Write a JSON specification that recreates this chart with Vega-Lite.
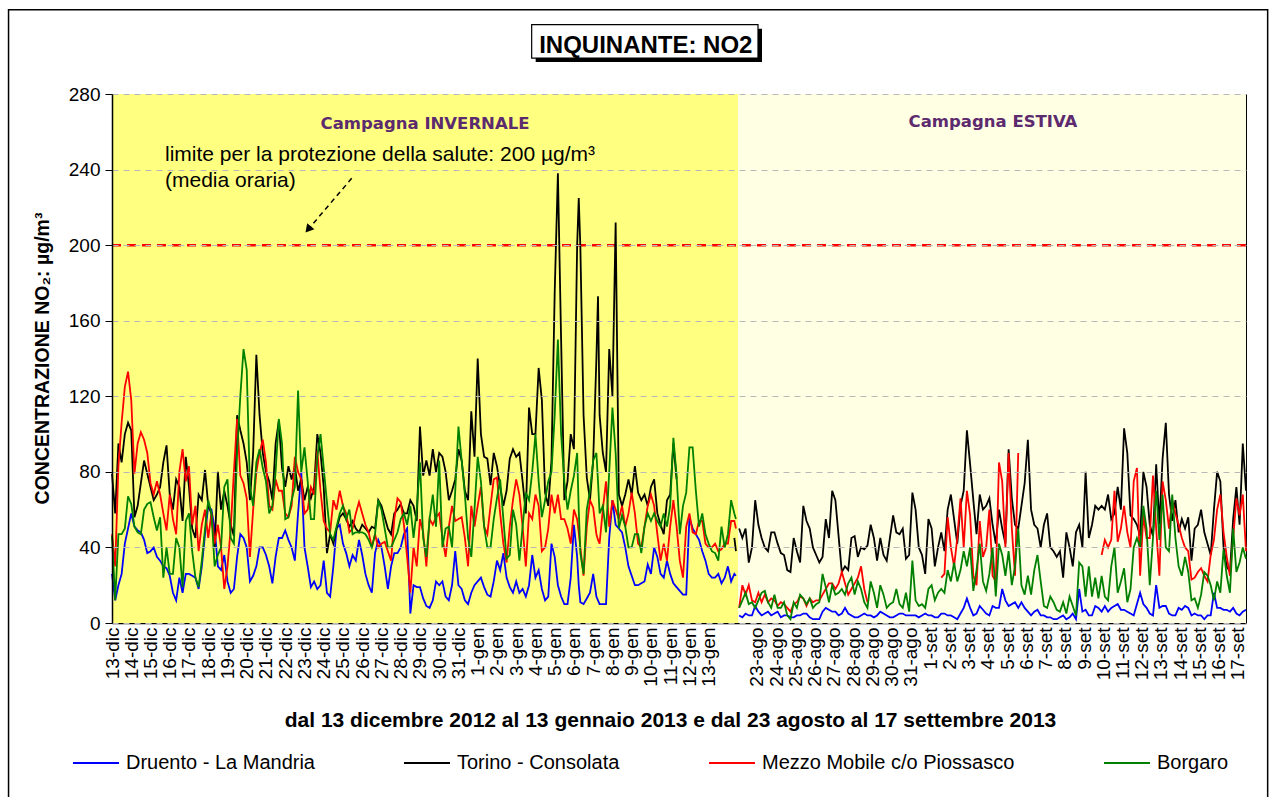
{
"$schema":"https://vega.github.io/schema/vega-lite/v6.json",
"width":1134,"height":529,
"autosize":{"type":"none"},
"padding":{"left":112,"top":94,"right":27,"bottom":174},
"background":"white",
"config":{"font":"Liberation Sans","view":{"stroke":"#000","strokeWidth":1}},
"datasets":{
"bg":[{"p":"INVERNALE","a":0,"b":780.6},{"p":"ESTIVA","a":780.6,"b":1414}],
"no2":[
{"h":0,"D":26,"T":79,"M":47,"B":46},{"h":4,"D":12,"T":58,"M":30,"B":12},{"h":8,"D":20,"T":95,"M":83,"B":47},{"h":12,"D":26,"T":85,"M":106,"B":47},{"h":16,"D":42,"T":100,"M":125,"B":50},{"h":20,"D":50,"T":106,"M":133,"B":67},{"h":24,"D":58,"T":102,"M":118,"B":63},{"h":28,"D":51,"T":56,"M":79,"B":51},{"h":32,"D":49,"T":62,"M":95,"B":48},{"h":36,"D":48,"T":74,"M":101,"B":47},{"h":40,"D":44,"T":86,"M":97,"B":60},{"h":44,"D":37,"T":79,"M":90,"B":63},{"h":48,"D":38,"T":72,"M":74,"B":64},{"h":52,"D":40,"T":65,"M":68,"B":56},{"h":56,"D":35,"T":68,"M":75,"B":49},{"h":60,"D":33,"T":72,"M":68,"B":56},{"h":64,"D":30,"T":85,"M":58,"B":24},{"h":68,"D":29,"T":94,"M":49,"B":40},{"h":72,"D":25,"T":68,"M":68,"B":26},{"h":76,"D":16,"T":60,"M":55,"B":26},{"h":80,"D":12,"T":76,"M":47,"B":45},{"h":84,"D":24,"T":72,"M":80,"B":40},{"h":88,"D":16,"T":54,"M":92,"B":19},{"h":92,"D":26,"T":88,"M":75,"B":54},{"h":96,"D":26,"T":72,"M":83,"B":58},{"h":100,"D":25,"T":50,"M":52,"B":38},{"h":104,"D":24,"T":45,"M":62,"B":24},{"h":108,"D":18,"T":68,"M":38,"B":19},{"h":112,"D":30,"T":65,"M":52,"B":33},{"h":116,"D":47,"T":81,"M":60,"B":50},{"h":120,"D":62,"T":62,"M":45,"B":65},{"h":124,"D":60,"T":58,"M":58,"B":58},{"h":128,"D":50,"T":40,"M":42,"B":30},{"h":132,"D":30,"T":80,"M":52,"B":36},{"h":136,"D":28,"T":60,"M":40,"B":40},{"h":140,"D":36,"T":70,"M":18,"B":72},{"h":144,"D":22,"T":62,"M":30,"B":76},{"h":148,"D":16,"T":52,"M":50,"B":45},{"h":152,"D":18,"T":46,"M":80,"B":42},{"h":156,"D":35,"T":110,"M":108,"B":90},{"h":160,"D":47,"T":102,"M":78,"B":120},{"h":164,"D":45,"T":95,"M":74,"B":145},{"h":168,"D":40,"T":85,"M":66,"B":134},{"h":172,"D":22,"T":65,"M":35,"B":72},{"h":176,"D":25,"T":90,"M":60,"B":62},{"h":180,"D":30,"T":142,"M":80,"B":85},{"h":184,"D":40,"T":110,"M":90,"B":92},{"h":188,"D":40,"T":90,"M":97,"B":82},{"h":192,"D":36,"T":80,"M":85,"B":75},
{"h":196,"D":30,"T":75,"M":62,"B":58},{"h":200,"D":21,"T":65,"M":60,"B":62},{"h":204,"D":35,"T":95,"M":76,"B":80},{"h":208,"D":45,"T":107,"M":70,"B":108},{"h":212,"D":45,"T":82,"M":70,"B":95},{"h":216,"D":49,"T":72,"M":58,"B":55},{"h":220,"D":44,"T":83,"M":56,"B":56},{"h":224,"D":40,"T":76,"M":62,"B":65},{"h":228,"D":33,"T":83,"M":88,"B":72},{"h":232,"D":58,"T":70,"M":80,"B":123},{"h":236,"D":80,"T":76,"M":76,"B":80},{"h":240,"D":40,"T":65,"M":58,"B":93},{"h":244,"D":30,"T":72,"M":60,"B":75},{"h":248,"D":19,"T":66,"M":72,"B":55},{"h":252,"D":22,"T":72,"M":68,"B":55},{"h":256,"D":18,"T":100,"M":91,"B":88},{"h":260,"D":20,"T":90,"M":70,"B":100},{"h":264,"D":33,"T":72,"M":54,"B":82},{"h":268,"D":16,"T":37,"M":50,"B":64},{"h":272,"D":14,"T":47,"M":48,"B":47},{"h":276,"D":30,"T":42,"M":65,"B":44},{"h":280,"D":50,"T":50,"M":60,"B":51},{"h":284,"D":52,"T":56,"M":70,"B":58},{"h":288,"D":42,"T":58,"M":62,"B":62},{"h":292,"D":37,"T":55,"M":58,"B":55},{"h":296,"D":30,"T":51,"M":48,"B":60},{"h":300,"D":36,"T":54,"M":50,"B":47},{"h":304,"D":33,"T":50,"M":58,"B":48},{"h":308,"D":44,"T":48,"M":64,"B":48},{"h":312,"D":36,"T":52,"M":58,"B":48},{"h":316,"D":26,"T":50,"M":52,"B":47},{"h":320,"D":20,"T":48,"M":48,"B":44},{"h":324,"D":16,"T":51,"M":40,"B":40},{"h":328,"D":37,"T":50,"M":47,"B":47},{"h":332,"D":44,"T":65,"M":40,"B":65},{"h":336,"D":40,"T":62,"M":42,"B":60},{"h":340,"D":30,"T":56,"M":43,"B":50},{"h":344,"D":18,"T":50,"M":38,"B":40},{"h":348,"D":30,"T":47,"M":33,"B":40},{"h":352,"D":37,"T":58,"M":55,"B":44},{"h":356,"D":37,"T":60,"M":66,"B":48},{"h":360,"D":40,"T":63,"M":64,"B":55},{"h":364,"D":47,"T":58,"M":52,"B":58},{"h":368,"D":50,"T":58,"M":35,"B":52},{"h":372,"D":5,"T":65,"M":16,"B":62},{"h":376,"D":20,"T":62,"M":40,"B":45},{"h":380,"D":19,"T":54,"M":30,"B":60},{"h":384,"D":19,"T":104,"M":55,"B":85},{"h":388,"D":13,"T":78,"M":48,"B":45},
{"h":392,"D":9,"T":86,"M":30,"B":35},{"h":396,"D":8,"T":78,"M":55,"B":55},{"h":400,"D":12,"T":92,"M":52,"B":68},{"h":404,"D":22,"T":80,"M":56,"B":51},{"h":408,"D":20,"T":90,"M":58,"B":86},{"h":412,"D":22,"T":88,"M":45,"B":40},{"h":416,"D":14,"T":80,"M":35,"B":50},{"h":420,"D":12,"T":65,"M":51,"B":51},{"h":424,"D":20,"T":70,"M":62,"B":40},{"h":428,"D":38,"T":76,"M":54,"B":70},{"h":432,"D":20,"T":92,"M":55,"B":104},{"h":436,"D":18,"T":86,"M":56,"B":86},{"h":440,"D":12,"T":70,"M":45,"B":68},{"h":444,"D":10,"T":65,"M":30,"B":45},{"h":448,"D":16,"T":112,"M":62,"B":35},{"h":452,"D":20,"T":88,"M":51,"B":60},{"h":456,"D":22,"T":140,"M":62,"B":88},{"h":460,"D":24,"T":100,"M":72,"B":75},{"h":464,"D":19,"T":88,"M":51,"B":51},{"h":468,"D":15,"T":87,"M":47,"B":40},{"h":472,"D":14,"T":73,"M":62,"B":40},{"h":476,"D":22,"T":90,"M":76,"B":55},{"h":480,"D":33,"T":83,"M":77,"B":66},{"h":484,"D":28,"T":72,"M":58,"B":76},{"h":488,"D":37,"T":62,"M":42,"B":55},{"h":492,"D":24,"T":70,"M":32,"B":34},{"h":496,"D":19,"T":87,"M":51,"B":36},{"h":500,"D":16,"T":92,"M":65,"B":60},{"h":504,"D":22,"T":88,"M":76,"B":52},{"h":508,"D":16,"T":90,"M":68,"B":33},{"h":512,"D":18,"T":75,"M":51,"B":51},{"h":516,"D":14,"T":58,"M":30,"B":69},{"h":520,"D":20,"T":114,"M":58,"B":65},{"h":524,"D":36,"T":100,"M":55,"B":80},{"h":528,"D":24,"T":100,"M":68,"B":100},{"h":532,"D":28,"T":135,"M":62,"B":75},{"h":536,"D":18,"T":118,"M":38,"B":56},{"h":540,"D":12,"T":69,"M":40,"B":65},{"h":544,"D":14,"T":62,"M":50,"B":75},{"h":548,"D":42,"T":86,"M":68,"B":80},{"h":552,"D":35,"T":175,"M":58,"B":110},{"h":556,"D":20,"T":238,"M":68,"B":150},{"h":560,"D":14,"T":150,"M":55,"B":100},{"h":564,"D":10,"T":65,"M":55,"B":75},{"h":568,"D":10,"T":75,"M":50,"B":60},{"h":572,"D":24,"T":100,"M":42,"B":70},{"h":576,"D":52,"T":92,"M":60,"B":78},{"h":580,"D":35,"T":200,"M":55,"B":90},{"h":582,"D":20,"T":225,"M":48,"B":60},
{"h":584,"D":11,"T":199,"M":40,"B":37},{"h":588,"D":10,"T":110,"M":25,"B":26},{"h":592,"D":13,"T":77,"M":51,"B":60},{"h":596,"D":16,"T":65,"M":65,"B":70},{"h":600,"D":26,"T":86,"M":61,"B":86},{"h":604,"D":14,"T":140,"M":47,"B":90},{"h":606,"D":12,"T":173,"M":44,"B":75},{"h":608,"D":10,"T":110,"M":42,"B":58},{"h":612,"D":10,"T":90,"M":60,"B":62},{"h":616,"D":10,"T":80,"M":75,"B":48},{"h":620,"D":45,"T":145,"M":51,"B":80},{"h":624,"D":65,"T":120,"M":65,"B":114},{"h":628,"D":52,"T":212,"M":60,"B":90},{"h":632,"D":50,"T":68,"M":55,"B":50},{"h":636,"D":48,"T":62,"M":62,"B":57},{"h":640,"D":40,"T":68,"M":51,"B":51},{"h":644,"D":30,"T":76,"M":58,"B":40},{"h":648,"D":25,"T":68,"M":69,"B":40},{"h":652,"D":20,"T":83,"M":58,"B":47},{"h":656,"D":20,"T":69,"M":42,"B":47},{"h":660,"D":21,"T":65,"M":40,"B":37},{"h":664,"D":22,"T":68,"M":51,"B":51},{"h":668,"D":31,"T":62,"M":62,"B":58},{"h":672,"D":26,"T":72,"M":68,"B":54},{"h":676,"D":40,"T":76,"M":62,"B":58},{"h":680,"D":35,"T":58,"M":47,"B":54},{"h":684,"D":26,"T":52,"M":33,"B":51},{"h":688,"D":24,"T":47,"M":42,"B":58},{"h":692,"D":33,"T":65,"M":33,"B":51},{"h":696,"D":26,"T":68,"M":51,"B":62},{"h":700,"D":21,"T":95,"M":65,"B":98},{"h":704,"D":19,"T":76,"M":51,"B":78},{"h":708,"D":17,"T":null,"M":33,"B":47},{"h":712,"D":15,"T":null,"M":24,"B":62},{"h":716,"D":15,"T":null,"M":51,"B":69},{"h":720,"D":56,"T":null,"M":58,"B":93},{"h":724,"D":50,"T":null,"M":48,"B":93},{"h":728,"D":47,"T":null,"M":47,"B":70},{"h":732,"D":44,"T":null,"M":54,"B":51},{"h":736,"D":38,"T":null,"M":54,"B":58},{"h":740,"D":33,"T":null,"M":42,"B":47},{"h":744,"D":26,"T":null,"M":40,"B":42},{"h":748,"D":24,"T":null,"M":40,"B":38},{"h":752,"D":24,"T":null,"M":42,"B":37},{"h":756,"D":26,"T":null,"M":38,"B":33},{"h":760,"D":21,"T":null,"M":39,"B":51},{"h":764,"D":24,"T":null,"M":42,"B":40},{"h":768,"D":30,"T":null,"M":42,"B":47},{"h":772,"D":22,"T":null,"M":54,"B":65},{"h":776,"D":26,"T":45,"M":54,"B":58},{"h":778,"D":25,"T":38,"M":50,"B":55},
{"h":780,"D":null,"T":null,"M":null,"B":null},
{"h":782,"D":4,"T":50,"M":8,"B":8},{"h":786,"D":3,"T":45,"M":20,"B":12},{"h":790,"D":5,"T":50,"M":15,"B":16},{"h":794,"D":4,"T":32,"M":20,"B":10},{"h":798,"D":4,"T":40,"M":12,"B":11},{"h":802,"D":9,"T":65,"M":11,"B":8},{"h":806,"D":6,"T":52,"M":16,"B":12},{"h":810,"D":4,"T":45,"M":11,"B":16},{"h":814,"D":5,"T":40,"M":15,"B":17},{"h":818,"D":6,"T":38,"M":11,"B":11},{"h":822,"D":4,"T":48,"M":13,"B":8},{"h":826,"D":5,"T":48,"M":12,"B":15},{"h":830,"D":6,"T":42,"M":9,"B":8},{"h":834,"D":3,"T":37,"M":11,"B":8},{"h":838,"D":4,"T":36,"M":10,"B":11},{"h":842,"D":4,"T":28,"M":8,"B":4},{"h":846,"D":3,"T":27,"M":6,"B":2},{"h":850,"D":3,"T":45,"M":10,"B":11},{"h":854,"D":4,"T":38,"M":11,"B":8},{"h":858,"D":4,"T":32,"M":14,"B":15},{"h":862,"D":5,"T":62,"M":13,"B":13},{"h":866,"D":5,"T":54,"M":9,"B":10},{"h":870,"D":3,"T":50,"M":13,"B":13},{"h":874,"D":2,"T":40,"M":11,"B":8},{"h":878,"D":2,"T":36,"M":12,"B":10},{"h":882,"D":2,"T":32,"M":12,"B":11},{"h":886,"D":6,"T":35,"M":15,"B":26},{"h":890,"D":8,"T":55,"M":18,"B":19},{"h":894,"D":7,"T":45,"M":21,"B":11},{"h":898,"D":6,"T":70,"M":21,"B":20},{"h":902,"D":6,"T":65,"M":18,"B":15},{"h":906,"D":4,"T":46,"M":21,"B":16},{"h":910,"D":5,"T":27,"M":27,"B":18},{"h":914,"D":8,"T":30,"M":21,"B":15},{"h":918,"D":5,"T":28,"M":15,"B":21},{"h":922,"D":4,"T":45,"M":18,"B":24},{"h":926,"D":3,"T":46,"M":21,"B":15},{"h":930,"D":3,"T":35,"M":24,"B":22},{"h":934,"D":4,"T":40,"M":30,"B":18},{"h":938,"D":5,"T":39,"M":18,"B":11},{"h":942,"D":4,"T":41,"M":11,"B":8},{"h":946,"D":4,"T":52,"M":null,"B":22},{"h":950,"D":3,"T":45,"M":null,"B":16},{"h":954,"D":4,"T":33,"M":null,"B":8},{"h":958,"D":6,"T":45,"M":null,"B":20},{"h":962,"D":5,"T":36,"M":null,"B":15},{"h":966,"D":4,"T":33,"M":null,"B":8},{"h":970,"D":3,"T":45,"M":null,"B":10},{"h":974,"D":3,"T":57,"M":null,"B":11},{"h":978,"D":4,"T":48,"M":null,"B":18},{"h":982,"D":5,"T":47,"M":null,"B":10},{"h":986,"D":5,"T":50,"M":null,"B":8},{"h":990,"D":4,"T":34,"M":null,"B":16},{"h":994,"D":4,"T":36,"M":null,"B":6},
{"h":998,"D":4,"T":69,"M":null,"B":33},{"h":1002,"D":4,"T":60,"M":null,"B":12},{"h":1006,"D":3,"T":40,"M":null,"B":9},{"h":1010,"D":4,"T":36,"M":null,"B":10},{"h":1014,"D":5,"T":26,"M":null,"B":8},{"h":1018,"D":4,"T":55,"M":null,"B":18},{"h":1022,"D":4,"T":50,"M":null,"B":20},{"h":1026,"D":3,"T":30,"M":null,"B":12},{"h":1030,"D":3,"T":40,"M":null,"B":16},{"h":1034,"D":5,"T":48,"M":24,"B":18},{"h":1038,"D":5,"T":38,"M":26,"B":16},{"h":1042,"D":4,"T":60,"M":56,"B":28},{"h":1046,"D":4,"T":68,"M":40,"B":22},{"h":1050,"D":3,"T":55,"M":30,"B":32},{"h":1054,"D":2,"T":42,"M":45,"B":22},{"h":1058,"D":5,"T":62,"M":66,"B":28},{"h":1062,"D":8,"T":70,"M":40,"B":38},{"h":1066,"D":13,"T":102,"M":70,"B":30},{"h":1070,"D":8,"T":84,"M":57,"B":40},{"h":1074,"D":4,"T":65,"M":25,"B":17},{"h":1078,"D":5,"T":47,"M":20,"B":28},{"h":1082,"D":9,"T":68,"M":54,"B":42},{"h":1086,"D":7,"T":60,"M":35,"B":22},{"h":1090,"D":5,"T":62,"M":40,"B":17},{"h":1094,"D":4,"T":66,"M":60,"B":26},{"h":1098,"D":9,"T":52,"M":25,"B":40},{"h":1102,"D":8,"T":42,"M":22,"B":14},{"h":1106,"D":8,"T":60,"M":85,"B":42},{"h":1110,"D":18,"T":50,"M":75,"B":36},{"h":1114,"D":12,"T":42,"M":40,"B":25},{"h":1118,"D":9,"T":92,"M":90,"B":38},{"h":1122,"D":10,"T":66,"M":50,"B":20},{"h":1126,"D":11,"T":52,"M":25,"B":30},{"h":1130,"D":8,"T":50,"M":90,"B":50},{"h":1134,"D":11,"T":62,"M":null,"B":20},{"h":1138,"D":8,"T":74,"M":null,"B":15},{"h":1142,"D":6,"T":97,"M":null,"B":25},{"h":1146,"D":4,"T":60,"M":null,"B":15},{"h":1150,"D":6,"T":52,"M":null,"B":28},{"h":1154,"D":7,"T":50,"M":null,"B":36},{"h":1158,"D":4,"T":40,"M":null,"B":22},{"h":1162,"D":4,"T":52,"M":null,"B":9},{"h":1166,"D":3,"T":58,"M":null,"B":8},{"h":1170,"D":3,"T":40,"M":null,"B":14},{"h":1174,"D":2,"T":38,"M":null,"B":11},{"h":1178,"D":2,"T":35,"M":null,"B":7},{"h":1182,"D":3,"T":38,"M":null,"B":6},{"h":1186,"D":4,"T":24,"M":null,"B":11},{"h":1190,"D":2,"T":48,"M":null,"B":5},{"h":1194,"D":3,"T":40,"M":null,"B":14},{"h":1198,"D":5,"T":30,"M":null,"B":9},{"h":1202,"D":2,"T":48,"M":null,"B":4},{"h":1206,"D":18,"T":52,"M":null,"B":32},{"h":1210,"D":6,"T":40,"M":null,"B":30},
{"h":1214,"D":7,"T":80,"M":null,"B":14},{"h":1218,"D":4,"T":45,"M":null,"B":30},{"h":1222,"D":4,"T":52,"M":null,"B":14},{"h":1226,"D":9,"T":62,"M":null,"B":24},{"h":1230,"D":8,"T":60,"M":null,"B":13},{"h":1234,"D":6,"T":62,"M":36,"B":25},{"h":1238,"D":9,"T":60,"M":44,"B":14},{"h":1242,"D":6,"T":68,"M":40,"B":12},{"h":1246,"D":8,"T":55,"M":44,"B":30},{"h":1250,"D":9,"T":58,"M":70,"B":40},{"h":1254,"D":10,"T":72,"M":43,"B":16},{"h":1258,"D":7,"T":60,"M":50,"B":22},{"h":1262,"D":7,"T":103,"M":62,"B":29},{"h":1266,"D":6,"T":90,"M":48,"B":11},{"h":1270,"D":5,"T":57,"M":40,"B":18},{"h":1274,"D":4,"T":55,"M":75,"B":40},{"h":1278,"D":10,"T":52,"M":82,"B":45},{"h":1282,"D":16,"T":46,"M":25,"B":40},{"h":1286,"D":10,"T":80,"M":57,"B":62},{"h":1290,"D":8,"T":72,"M":45,"B":50},{"h":1294,"D":5,"T":52,"M":45,"B":20},{"h":1298,"D":4,"T":46,"M":78,"B":45},{"h":1302,"D":20,"T":84,"M":50,"B":70},{"h":1306,"D":8,"T":52,"M":25,"B":44},{"h":1310,"D":9,"T":87,"M":75,"B":68},{"h":1314,"D":9,"T":106,"M":65,"B":40},{"h":1318,"D":5,"T":68,"M":50,"B":38},{"h":1322,"D":4,"T":54,"M":65,"B":68},{"h":1326,"D":4,"T":65,"M":58,"B":45},{"h":1330,"D":8,"T":48,"M":52,"B":30},{"h":1334,"D":7,"T":55,"M":45,"B":25},{"h":1338,"D":9,"T":50,"M":40,"B":35},{"h":1342,"D":8,"T":56,"M":38,"B":27},{"h":1346,"D":4,"T":33,"M":23,"B":12},{"h":1350,"D":5,"T":50,"M":24,"B":13},{"h":1354,"D":4,"T":52,"M":27,"B":8},{"h":1358,"D":4,"T":60,"M":29,"B":15},{"h":1362,"D":2,"T":48,"M":25,"B":27},{"h":1366,"D":4,"T":42,"M":22,"B":25},{"h":1370,"D":4,"T":36,"M":36,"B":20},{"h":1374,"D":16,"T":60,"M":44,"B":12},{"h":1378,"D":8,"T":80,"M":60,"B":22},{"h":1382,"D":8,"T":75,"M":68,"B":16},{"h":1386,"D":7,"T":40,"M":48,"B":39},{"h":1390,"D":7,"T":30,"M":35,"B":25},{"h":1394,"D":6,"T":27,"M":25,"B":16},{"h":1398,"D":8,"T":55,"M":45,"B":50},{"h":1402,"D":5,"T":72,"M":66,"B":27},{"h":1406,"D":4,"T":52,"M":57,"B":32},{"h":1410,"D":6,"T":95,"M":68,"B":40},{"h":1414,"D":7,"T":70,"M":38,"B":34}
]},
"layer":[
{"data":{"values":[{}]},"mark":{"type":"rect","fill":null,"fillOpacity":0,"stroke":"#000","strokeWidth":1.5},
 "encoding":{"x":{"datum":-129,"type":"quantitative","scale":{"domain":[0,1414],"nice":false,"zero":false}},"x2":{"datum":1441},"y":{"datum":324.6,"type":"quantitative","scale":{"domain":[0,280],"nice":false,"zero":false}},"y2":{"datum":-95}}},
{"data":{"name":"bg"},"mark":{"type":"rect"},
 "encoding":{"x":{"field":"a","type":"quantitative","scale":{"domain":[0,1414],"nice":false,"zero":false}},"x2":{"field":"b"},
  "fill":{"field":"p","type":"nominal","scale":{"domain":["INVERNALE","ESTIVA"],"range":["#ffff80","#ffffe3"]},"legend":null}}},
{"data":{"values":[{}]},"mark":{"type":"rule","color":"#ff0000","strokeWidth":2.5,"strokeDash":[9,6]},
 "encoding":{"y":{"datum":200,"type":"quantitative","scale":{"domain":[0,280],"nice":false,"zero":false}}}},
{"data":{"name":"no2"},"transform":[{"fold":["D","T","M","B"],"as":["s","v"]}],
 "mark":{"type":"line","strokeWidth":1.8,"invalid":"break-paths-show-domains"},
 "encoding":{
  "x":{"field":"h","type":"quantitative","scale":{"domain":[0,1414],"nice":false,"zero":false},
   "axis":{"values":[0,24,48,72,96,120,144,168,192,216,240,264,288,312,336,360,384,408,432,456,480,504,528,552,576,600,624,648,672,696,720,744,804,828,852,876,900,924,948,972,996,1020,1044,1068,1092,1116,1140,1164,1188,1212,1236,1260,1284,1308,1332,1356,1380,1404],
    "tickCount":200,
    "labelExpr":"datum.value < 780 ? ['13-dic','14-dic','15-dic','16-dic','17-dic','18-dic','19-dic','20-dic','21-dic','22-dic','23-dic','24-dic','25-dic','26-dic','27-dic','28-dic','29-dic','30-dic','31-dic','1-gen','2-gen','3-gen','4-gen','5-gen','6-gen','7-gen','8-gen','9-gen','10-gen','11-gen','12-gen','13-gen'][datum.value/24] : ['23-ago','24-ago','25-ago','26-ago','27-ago','28-ago','29-ago','30-ago','31-ago','1-set','2-set','3-set','4-set','5-set','6-set','7-set','8-set','9-set','10-set','11-set','12-set','13-set','14-set','15-set','16-set','17-set'][(datum.value-804)/24]",
    "labelAngle":270,"labelFontSize":19,"labelColor":"#000","labelPadding":4,"labelOverlap":false,"labelFlush":false,"labelBound":false,
    "ticks":false,"grid":false,"domainColor":"#000","domainWidth":1.5,
    "title":"dal 13 dicembre 2012 al 13 gennaio 2013 e dal 23 agosto al 17 settembre 2013",
    "titleFontSize":21,"titleFontWeight":"bold","titleColor":"#000","titleX":558,"titleY":97,"titleBaseline":"middle","titleAlign":"center"}},
  "y":{"field":"v","type":"quantitative","scale":{"domain":[0,280],"nice":false,"zero":false},
   "axis":{"values":[0,40,80,120,160,200,240,280],"grid":true,"gridDash":[6,5],"gridColor":"#b8b8b8","gridWidth":1,
    "tickSize":7,"tickColor":"#000","domainColor":"#000","domainWidth":1.5,"labelFontSize":19,"labelColor":"#000","labelPadding":5,
    "title":"CONCENTRAZIONE NO₂:  µg/m³","titleFontSize":19.5,"titleFontWeight":"bold","titleColor":"#000",
    "titleX":-70,"titleY":264,"titleAngle":270,"titleBaseline":"middle","titleAlign":"center","zindex":1}},
  "color":{"field":"s","type":"nominal","scale":{"domain":["D","T","M","B"],"range":["#0000ff","#000000","#ff0000","#008000"]},
   "legend":{"orient":"none","legendX":-40,"legendY":645,"direction":"horizontal","title":null,"symbolType":"stroke","symbolSize":2116,"symbolStrokeWidth":2,
    "labelFontSize":20,"labelColor":"#000","labelLimit":500,"columnPadding":85,"labelOffset":6,"padding":0,
    "labelExpr":"datum.label=='D'?'Druento - La Mandria':datum.label=='T'?'Torino - Consolata':datum.label=='M'?'Mezzo Mobile c/o Piossasco':'Borgaro'"}}
 }},
{"data":{"values":[{}]},"mark":{"type":"text","text":"limite per la protezione della salute: 200  µg/m³","fontSize":21,"align":"left","baseline":"alphabetic","color":"#000"},
 "encoding":{"x":{"datum":66.1,"type":"quantitative","scale":{"domain":[0,1414],"nice":false,"zero":false}},"y":{"datum":244.6,"type":"quantitative","scale":{"domain":[0,280],"nice":false,"zero":false}}}},
{"data":{"values":[{}]},"mark":{"type":"text","text":"(media oraria)","fontSize":21,"align":"left","baseline":"alphabetic","color":"#000"},
 "encoding":{"x":{"datum":66.1,"type":"quantitative","scale":{"domain":[0,1414],"nice":false,"zero":false}},"y":{"datum":230.9,"type":"quantitative","scale":{"domain":[0,280],"nice":false,"zero":false}}}},
{"data":{"values":[{}]},"mark":{"type":"text","text":"Campagna INVERNALE","font":"DejaVu Sans","fontSize":16.5,"fontWeight":"bold","align":"center","baseline":"alphabetic","color":"#5c2a6e"},
 "encoding":{"x":{"datum":390.3,"type":"quantitative","scale":{"domain":[0,1414],"nice":false,"zero":false}},"y":{"datum":261.6,"type":"quantitative","scale":{"domain":[0,280],"nice":false,"zero":false}}}},
{"data":{"values":[{}]},"mark":{"type":"text","text":"Campagna ESTIVA","font":"DejaVu Sans","fontSize":16.5,"fontWeight":"bold","align":"center","baseline":"alphabetic","color":"#5c2a6e"},
 "encoding":{"x":{"datum":1098.5,"type":"quantitative","scale":{"domain":[0,1414],"nice":false,"zero":false}},"y":{"datum":262.6,"type":"quantitative","scale":{"domain":[0,280],"nice":false,"zero":false}}}},
{"data":{"values":[{}]},"mark":{"type":"rule","color":"#000","strokeWidth":1.5,"strokeDash":[5,4]},
 "encoding":{"x":{"datum":298.9,"type":"quantitative","scale":{"domain":[0,1414],"nice":false,"zero":false}},"x2":{"datum":244.6},"y":{"datum":235.4,"type":"quantitative","scale":{"domain":[0,280],"nice":false,"zero":false}},"y2":{"datum":208.3}}},
{"data":{"values":[{}]},"mark":{"type":"point","shape":"triangle-up","filled":true,"color":"#000","size":90,"angle":220,"opacity":1},
 "encoding":{"x":{"datum":244.6,"type":"quantitative","scale":{"domain":[0,1414],"nice":false,"zero":false}},"y":{"datum":208.3,"type":"quantitative","scale":{"domain":[0,280],"nice":false,"zero":false}}}},
{"data":{"values":[{}]},"mark":{"type":"rect","fill":"#000"},
 "encoding":{"x":{"datum":528.3,"type":"quantitative","scale":{"domain":[0,1414],"nice":false,"zero":false}},"x2":{"datum":810.5},"y":{"datum":314.6,"type":"quantitative","scale":{"domain":[0,280],"nice":false,"zero":false}},"y2":{"datum":297.0}}},
{"data":{"values":[{}]},"mark":{"type":"rect","fill":"#fff","stroke":"#000","strokeWidth":1.2},
 "encoding":{"x":{"datum":523.3,"type":"quantitative","scale":{"domain":[0,1414],"nice":false,"zero":false}},"x2":{"datum":805.5},"y":{"datum":316.7,"type":"quantitative","scale":{"domain":[0,280],"nice":false,"zero":false}},"y2":{"datum":299.0}}},
{"data":{"values":[{}]},"mark":{"type":"text","text":"INQUINANTE: NO2","fontSize":24,"fontWeight":"bold","align":"center","baseline":"alphabetic","color":"#000"},
 "encoding":{"x":{"datum":665.6,"type":"quantitative","scale":{"domain":[0,1414],"nice":false,"zero":false}},"y":{"datum":301.7,"type":"quantitative","scale":{"domain":[0,280],"nice":false,"zero":false}}}}
]
}
